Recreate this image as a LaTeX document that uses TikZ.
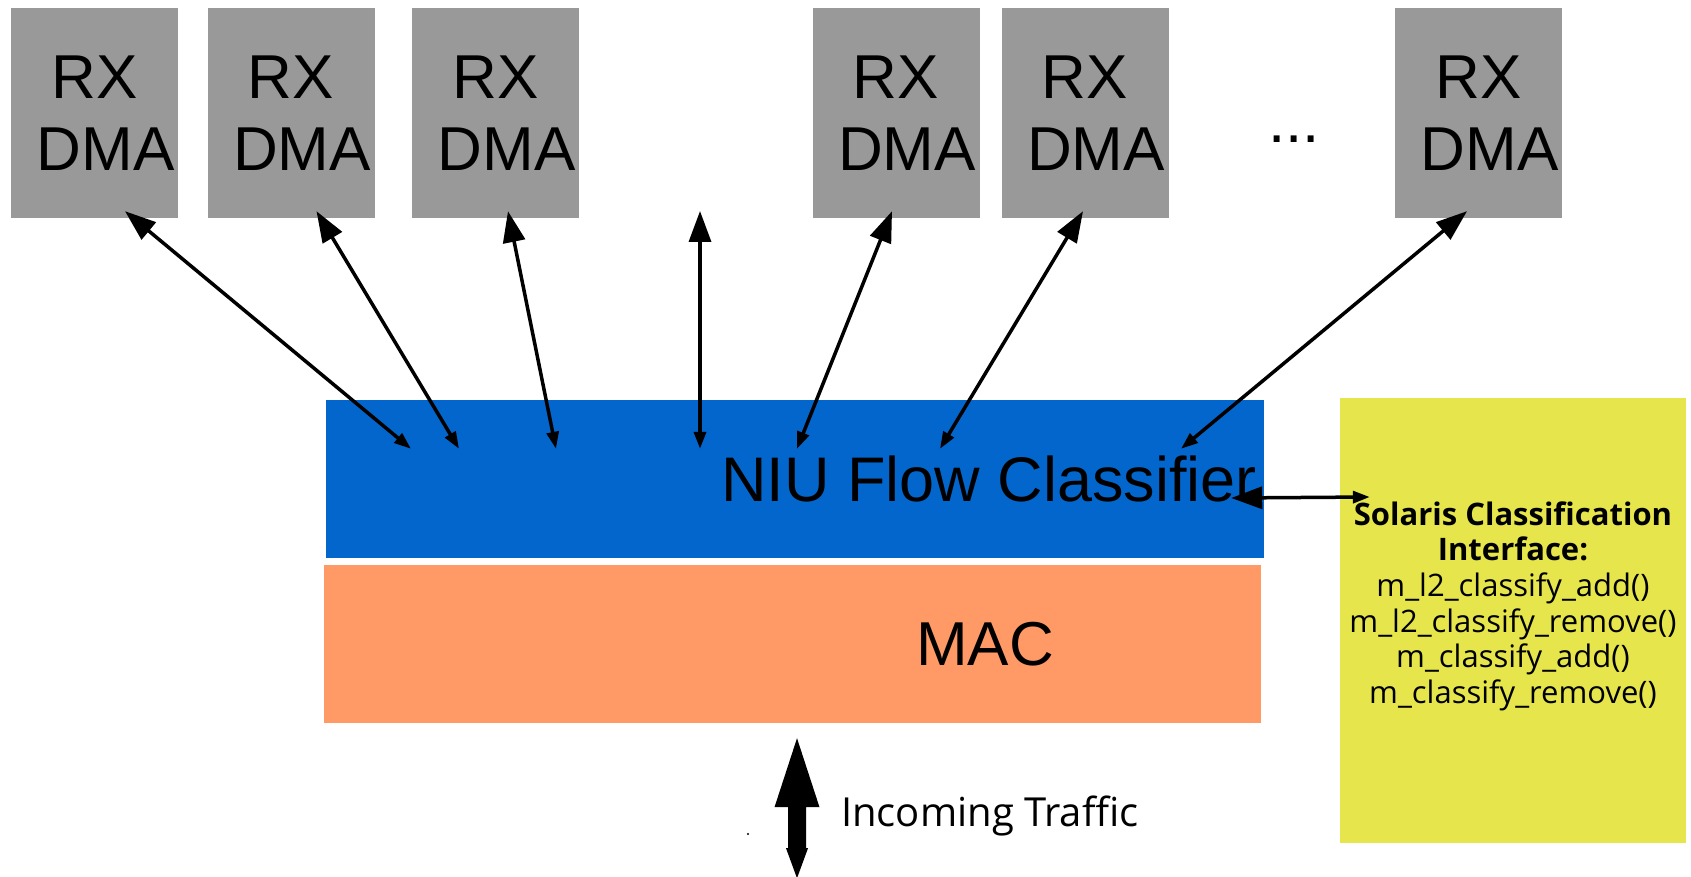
\documentclass[tikz,border=0pt]{standalone}
\usepackage{fontspec}
\setmainfont{Liberation Sans}
\newfontfamily\apifont{Open Sans}
\usetikzlibrary{arrows.meta}

\definecolor{dmagray}{HTML}{999999}
\definecolor{niublue}{HTML}{0366CC}
\definecolor{macorange}{HTML}{FF9966}
\definecolor{apiyellow}{HTML}{E6E64C}

\begin{document}
\begin{tikzpicture}[x=1pt,y=-1pt,
  dmabox/.style={fill=dmagray, inner sep=0pt, minimum width=167pt, minimum height=210pt,
    align=center, font=\fontsize{62}{72}\selectfont},
  layer/.style={inner sep=0pt, minimum width=938pt, minimum height=157.5pt},
  bigtext/.style={anchor=base, inner sep=0pt},
  link/.style={line width=3.5pt,
    {Triangle[length=31pt,width=22pt]}-{Triangle[length=17pt,width=12pt]}},
]
\useasboundingbox (0,0) rectangle (1691,877);

% receive DMA channels
\node[dmabox] (rx1) at (94.5,113)  {RX\\\hspace*{22pt}DMA};
\node[dmabox] (rx2) at (291,113)   {RX\\\hspace*{22pt}DMA};
\node[dmabox] (rx3) at (495.5,113) {RX\\\hspace*{22pt}DMA};
\node[dmabox] (rx4) at (896,113)   {RX\\\hspace*{22pt}DMA};
\node[dmabox] (rx5) at (1085,113)  {RX\\\hspace*{22pt}DMA};
\node[dmabox] (rx6) at (1478.5,113){RX\\\hspace*{22pt}DMA};
\node[bigtext, font=\fontsize{62}{72}\selectfont] (more) at (1294,143) {...};

% classifier and MAC layers
\node[layer, fill=niublue] (niu) at (795,478.75) {};
\node[bigtext, font=\fontsize{63}{72}\selectfont] (niutext) at (989,501) {NIU Flow Classifier};
\node[layer, fill=macorange, minimum width=937pt] (mac) at (792,643.75) {};
\node[bigtext, font=\fontsize{62}{70}\selectfont] (mactext) at (985,665) {MAC};

% classification API box (base anchor sits on the last line)
\node[fill=apiyellow, inner sep=0pt, minimum width=346pt, minimum height=445pt] (sci) at (1513,620.5) {};
\node[bigtext, align=center, font=\apifont\fontsize{31}{35.7}\selectfont] (scitext) at (1513,703.5)
  {\textbf{Solaris Classification}\\\textbf{Interface:}\\m\_l2\_classify\_add()\\
   m\_l2\_classify\_remove()\\m\_classify\_add()\\m\_classify\_remove()};

% arrow end points
\coordinate (a1) at ([shift={(30.5,-7)}]rx1.south);
\coordinate (a2) at ([shift={(25.5,-7)}]rx2.south);
\coordinate (a3) at ([shift={(12.5,-7)}]rx3.south);
\coordinate (a4) at (700,211);
\coordinate (a5) at ([shift={(-4,-7)}]rx4.south);
\coordinate (a6) at ([shift={(-2,-7)}]rx5.south);
\coordinate (a7) at ([shift={(-11.5,-7)}]rx6.south);
\coordinate (b1) at ([shift={(-384,49)}]niu.north);
\coordinate (b2) at ([shift={(-336,49)}]niu.north);
\coordinate (b3) at ([shift={(-239,49)}]niu.north);
\coordinate (b4) at ([shift={(-95,49)}]niu.north);
\coordinate (b5) at ([shift={(2,49)}]niu.north);
\coordinate (b6) at ([shift={(145,49)}]niu.north);
\coordinate (b7) at ([shift={(386,49)}]niu.north);
\coordinate (h1) at ([shift={(-33,19.25)}]niu.east);
\coordinate (h2) at ([shift={(30,-123.5)}]sci.west);

% DMA links
\draw[link] (a1) -- (b1);
\draw[link] (a2) -- (b2);
\draw[link] (a3) -- (b3);
\draw[link] (a4) -- (b4);
\draw[link] (a5) -- (b5);
\draw[link] (a6) -- (b6);
\draw[link] (a7) -- (b7);
\draw[link] (h1) -- (h2);

% incoming traffic
\coordinate (up) at ([shift={(5,15.5)}]mac.south);
\fill (up) -- ++(22.5,69) -- ++(-13.5,0) -- ++(0,41) -- ++(2,0) -- ++(-11,30)
  -- ++(-11,-30) -- ++(2,0) -- ++(0,-41) -- ++(-13.5,0) -- cycle;
\fill (748,834) circle (1.2pt);
\node[anchor=base west, inner sep=0pt, font=\apifont\fontsize{40}{48}\selectfont] (traffic) at (841,826) {Incoming Traffic};
\end{tikzpicture}
\end{document}
